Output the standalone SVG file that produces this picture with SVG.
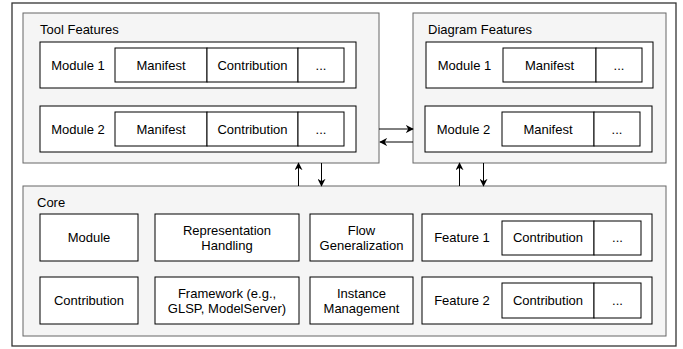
<svg xmlns="http://www.w3.org/2000/svg" width="683" height="349" viewBox="0 0 683 349">
<defs>
<style>
.outer{fill:#ffffff;stroke:#333333;stroke-width:1.3}
.cont{fill:#f5f5f5;stroke:#666666;stroke-width:1}
.box{fill:#ffffff;stroke:#000000;stroke-width:1}
.t{font-family:"Liberation Sans",Arial,Helvetica,sans-serif;font-size:13px;fill:#000000}
.c{text-anchor:middle}
.edge{stroke:#000000;stroke-width:1;fill:none}
</style>
<marker id="ah" viewBox="0 0 10 10" refX="9" refY="5" markerWidth="8" markerHeight="8" orient="auto" markerUnits="userSpaceOnUse">
<path d="M0,0 L10,5 L0,10 L3,5 Z" fill="#000000"/>
</marker>
</defs>
<rect width="683" height="349" fill="#ffffff"/>
<rect id="outer" class="outer" x="12" y="3" width="664" height="343"/>

<g id="tool-features">
<rect class="cont" x="23" y="13" width="356" height="150"/>
<text class="t" x="40" y="34">Tool Features</text>
<g id="tool-module1">
<rect class="box" x="40" y="42" width="316" height="46"/>
<text class="t c" x="78" y="69.5">Module 1</text>
<rect class="box" x="115" y="48" width="92" height="34"/>
<text class="t c" x="161" y="69.5">Manifest</text>
<rect class="box" x="207" y="48" width="91" height="34"/>
<text class="t c" x="252.5" y="69.5">Contribution</text>
<rect class="box" x="298" y="48" width="46" height="34"/>
<text class="t c" x="321" y="69.5">...</text>
</g>
<g id="tool-module2">
<rect class="box" x="40" y="106" width="316" height="46"/>
<text class="t c" x="78" y="133.5">Module 2</text>
<rect class="box" x="115" y="112" width="92" height="34"/>
<text class="t c" x="161" y="133.5">Manifest</text>
<rect class="box" x="207" y="112" width="91" height="34"/>
<text class="t c" x="252.5" y="133.5">Contribution</text>
<rect class="box" x="298" y="112" width="46" height="34"/>
<text class="t c" x="321" y="133.5">...</text>
</g>
</g>

<g id="diagram-features">
<rect class="cont" x="413" y="13" width="253" height="150"/>
<text class="t" x="428" y="34">Diagram Features</text>
<g id="diagram-module1">
<rect class="box" x="426" y="42" width="227" height="46"/>
<text class="t c" x="464.5" y="69.5">Module 1</text>
<rect class="box" x="503" y="48" width="93" height="34"/>
<text class="t c" x="549.5" y="69.5">Manifest</text>
<rect class="box" x="596" y="48" width="46" height="34"/>
<text class="t c" x="619" y="69.5">...</text>
</g>
<g id="diagram-module2">
<rect class="box" x="425" y="106" width="227" height="46"/>
<text class="t c" x="463.5" y="133.5">Module 2</text>
<rect class="box" x="502" y="112" width="92" height="34"/>
<text class="t c" x="548" y="133.5">Manifest</text>
<rect class="box" x="594" y="112" width="46" height="34"/>
<text class="t c" x="617" y="133.5">...</text>
</g>
</g>

<g id="core">
<rect class="cont" x="23" y="186" width="643" height="150"/>
<text class="t" x="37" y="207">Core</text>
<g id="core-module">
<rect class="box" x="40" y="214" width="98" height="47"/>
<text class="t c" x="89" y="242">Module</text>
</g>
<g id="core-representation">
<rect class="box" x="155" y="214" width="144" height="47"/>
<text class="t c" x="227" y="234.5">Representation</text>
<text class="t c" x="227" y="250">Handling</text>
</g>
<g id="core-flow">
<rect class="box" x="310" y="214" width="103" height="47"/>
<text class="t c" x="361.5" y="234.5">Flow</text>
<text class="t c" x="361.5" y="250">Generalization</text>
</g>
<g id="core-feature1">
<rect class="box" x="422" y="214" width="230" height="47"/>
<text class="t c" x="462" y="242">Feature 1</text>
<rect class="box" x="502" y="221" width="92" height="34"/>
<text class="t c" x="548" y="242">Contribution</text>
<rect class="box" x="594" y="221" width="47" height="34"/>
<text class="t c" x="617.5" y="242">...</text>
</g>
<g id="core-contribution">
<rect class="box" x="40" y="277" width="98" height="47"/>
<text class="t c" x="89" y="305">Contribution</text>
</g>
<g id="core-framework">
<rect class="box" x="155" y="277" width="144" height="47"/>
<text class="t c" x="227" y="297.5">Framework (e.g.,</text>
<text class="t c" x="227" y="313">GLSP, ModelServer)</text>
</g>
<g id="core-instance">
<rect class="box" x="310" y="277" width="103" height="47"/>
<text class="t c" x="361.5" y="297.5">Instance</text>
<text class="t c" x="361.5" y="313">Management</text>
</g>
<g id="core-feature2">
<rect class="box" x="422" y="277" width="230" height="47"/>
<text class="t c" x="462" y="305">Feature 2</text>
<rect class="box" x="502" y="283" width="92" height="35"/>
<text class="t c" x="548" y="305">Contribution</text>
<rect class="box" x="594" y="283" width="47" height="35"/>
<text class="t c" x="617.5" y="305">...</text>
</g>
</g>

<g id="connectors">
<path class="edge" d="M379,129 L413,129" marker-end="url(#ah)"/>
<path class="edge" d="M413,142 L380,142" marker-end="url(#ah)"/>
<path class="edge" d="M298.5,186 L298.5,163" marker-end="url(#ah)"/>
<path class="edge" d="M321.5,163 L321.5,186" marker-end="url(#ah)"/>
<path class="edge" d="M459.5,186 L459.5,163" marker-end="url(#ah)"/>
<path class="edge" d="M483.5,163 L483.5,186" marker-end="url(#ah)"/>
</g>
</svg>
